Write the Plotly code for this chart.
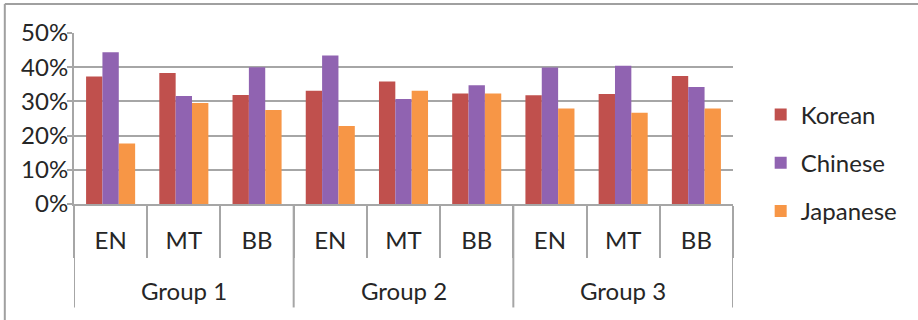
import plotly.graph_objects as go

groups = ["Group 1", "Group 2", "Group 3"]
subcats = ["EN", "MT", "BB"]
korean = [0.373, 0.383, 0.319, 0.331, 0.358, 0.323, 0.318, 0.322, 0.374]
chinese = [0.444, 0.316, 0.400, 0.434, 0.307, 0.347, 0.399, 0.404, 0.342]
japanese = [0.177, 0.295, 0.275, 0.228, 0.331, 0.323, 0.279, 0.267, 0.279]
series = [("Korean", korean, "#C0504D"), ("Chinese", chinese, "#9063B1"), ("Japanese", japanese, "#F79646")]
yticks = [0, 0.1, 0.2, 0.3, 0.4, 0.5]
ytext = ["0%", "10%", "20%", "30%", "40%", "50%"]

FONT = "Lato"
FS = 24
TXT = "#262626"
GRID = "#A6A6A6"

n_sub = len(subcats)
n = len(groups) * n_sub
xpos = list(range(n))
xlabels = [subcats[i % n_sub] for i in range(n)]
boundaries = [i - 0.5 for i in range(n + 1)]
group_bounds = [g * n_sub - 0.5 for g in range(len(groups) + 1)]
group_centers = [g * n_sub + (n_sub - 1) / 2 for g in range(len(groups))]

fig = go.Figure()
for name, vals, col in series:
    fig.add_trace(go.Bar(name=name, x=xpos, y=vals, marker=dict(color=col, line=dict(width=0)),
                         legendgroup=name))

shapes = [
    dict(type="line", xref="paper", yref="paper", x0=-0.105, x1=2, y0=1.17, y1=1.17,
         line=dict(color="#A0A0A0", width=2)),
    dict(type="line", xref="paper", yref="paper", x0=-0.105, x1=-0.105, y0=1.17, y1=-1,
         line=dict(color="#A0A0A0", width=2)),
]
for b in group_bounds:
    shapes.append(dict(type="line", xref="x", yref="paper", x0=b, x1=b, y0=0, y1=-0.605,
                       line=dict(color=GRID, width=2)))

annotations = []
for g, c in zip(groups, group_centers):
    annotations.append(dict(x=c, y=-0.505, xref="x", yref="paper", text=g, showarrow=False,
                            xanchor="center", yanchor="middle",
                            font=dict(family=FONT, size=FS, color=TXT)))

fig.update_layout(
    width=918, height=320,
    margin=dict(l=74, r=185, t=33, b=116),
    paper_bgcolor="white", plot_bgcolor="white",
    barmode="group", bargap=0.33, bargroupgap=0,
    font=dict(family=FONT, size=FS, color=TXT),
    showlegend=True,
    legend=dict(x=1.042, xanchor="left", y=0.24, yanchor="middle", font=dict(size=FS, family=FONT, color=TXT),
                tracegroupgap=14, traceorder="grouped", bgcolor="rgba(0,0,0,0)", itemwidth=30),
    xaxis=dict(range=[-0.5, n - 0.5], tickmode="array", tickvals=xpos, ticktext=xlabels,
               showline=True, linecolor=GRID, linewidth=2, ticks="", ticklabelstandoff=14,
               minor=dict(tickmode="array", tickvals=boundaries, ticks="outside", ticklen=52,
                          tickcolor=GRID, tickwidth=2, showgrid=False),
               showgrid=False, zeroline=False, tickfont=dict(size=FS, family=FONT, color=TXT)),
    yaxis=dict(range=[0, 0.5], tickvals=yticks, ticktext=ytext, showline=True, linecolor=GRID, linewidth=2,
               ticks="outside", ticklen=5, tickcolor=GRID, tickwidth=2, ticklabelstandoff=-6,
               showgrid=True, gridcolor=GRID, gridwidth=2, zeroline=False,
               tickfont=dict(size=FS, family=FONT, color=TXT)),
    shapes=shapes,
    annotations=annotations,
)
fig.write_html("out.html")
